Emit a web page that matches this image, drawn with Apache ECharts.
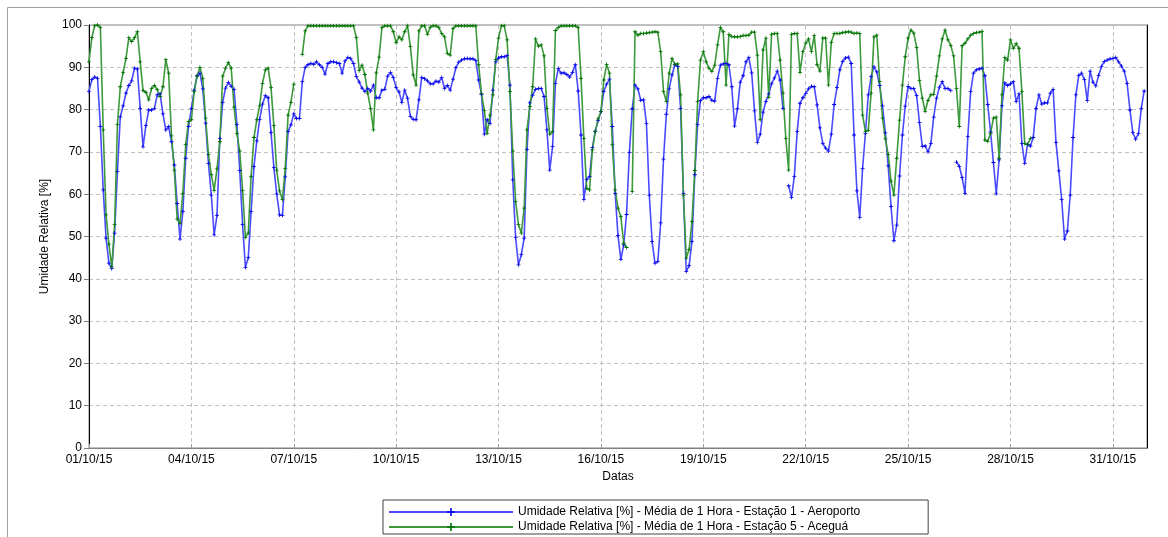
<!DOCTYPE html>
<html>
<head>
<meta charset="utf-8">
<script src="https://cdn.jsdelivr.net/npm/echarts@6/dist/echarts.min.js"></script>
<style>
  html, body { margin: 0; padding: 0; background: #fff; }
  #chart { width: 1168px; height: 537px; }
</style>
</head>
<body>
<div id="chart"></div>
<script>
// leituras a cada 2 horas, a partir de 01/10/15 00:00
var dayLabels = ['01/10/15', '04/10/15', '07/10/15', '10/10/15', '13/10/15', '16/10/15',
                 '19/10/15', '22/10/15', '25/10/15', '28/10/15', '31/10/15'];

// Estação 1 - Aeroporto
var estacao1 = [
  84.3, 87.1, 87.7, 87.4, 76.0, 61.0, 49.6, 43.7, 42.4, 50.8, 65.4, 78.3,
  80.9, 83.9, 85.7, 86.8, 89.8, 89.6, 80.3, 71.2, 76.2, 79.9, 79.9, 80.3,
  83.5, 83.7, 79.0, 75.2, 76.0, 72.4, 66.9, 57.8, 49.4, 55.9, 68.5, 76.0,
  80.3, 84.6, 88.0, 88.6, 84.9, 76.8, 67.3, 59.8, 50.4, 55.0, 73.2, 81.7,
  85.1, 86.4, 85.5, 84.8, 76.5, 65.6, 52.8, 42.7, 45.0, 55.9, 66.5, 72.6,
  77.7, 81.3, 83.3, 82.8, 74.6, 66.3, 60.1, 55.1, 55.0, 64.1, 74.8, 76.4,
  79.0, 77.9, 77.9, 86.6, 90.0, 90.6, 90.9, 90.7, 91.3, 90.6, 90.0, 88.4,
  90.9, 91.3, 91.3, 91.1, 90.9, 88.6, 91.5, 92.3, 92.1, 90.9, 87.8, 86.5,
  85.1, 84.3, 85.0, 84.4, 85.8, 82.8, 82.8, 84.6, 84.8, 87.9, 88.8, 87.6,
  85.2, 84.2, 81.7, 84.6, 82.7, 78.4, 77.7, 77.6, 82.3, 87.6, 87.3, 86.8,
  86.1, 86.1, 86.7, 86.5, 87.6, 85.0, 85.7, 84.6, 87.2, 89.9, 91.2, 91.7,
  92.0, 92.1, 92.0, 92.0, 91.6, 87.0, 83.6, 74.2, 77.6, 76.7, 84.6, 91.3,
  92.2, 92.5, 92.5, 92.8, 85.8, 63.4, 49.8, 43.3, 45.7, 49.6, 70.6, 81.6,
  83.4, 84.8, 85.0, 85.0, 83.1, 75.2, 65.7, 71.3, 86.2, 89.7, 88.6, 88.7,
  88.3, 87.7, 88.8, 90.6, 84.4, 74.0, 58.7, 63.5, 64.2, 71.0, 74.9, 77.4,
  79.5, 84.3, 86.0, 87.2, 76.0, 60.2, 50.2, 44.6, 48.0, 55.2, 69.9, 80.2,
  85.8, 84.9, 82.2, 82.3, 76.7, 59.8, 48.8, 43.7, 44.1, 53.2, 68.3, 78.9,
  84.9, 88.2, 90.6, 90.2, 80.3, 60.2, 41.7, 43.1, 48.8, 64.6, 76.5, 82.1,
  82.8, 82.8, 83.1, 82.2, 82.0, 87.4, 90.5, 90.8, 90.9, 90.6, 85.4, 76.1,
  80.2, 86.5, 88.0, 91.3, 92.3, 88.7, 79.7, 72.2, 74.2, 79.4, 81.9, 83.7,
  86.1, 87.5, 89.1, 87.0, 80.3, null, 62.0, 59.2, 64.2, 74.8, 81.5, 82.8,
  83.8, 84.9, 85.5, 85.4, 81.1, 75.7, 72.0, 70.9, 70.2, 74.2, 81.2, 85.2,
  89.4, 91.4, 92.2, 92.4, 90.9, 74.0, 60.8, 54.5, 66.1, 74.4, 83.5, 87.8,
  90.1, 88.9, 85.7, 80.9, 74.5, 66.7, 57.1, 49.0, 52.7, 64.3, 74.0, 80.8,
  85.5, 85.0, 85.0, 83.3, 76.9, 71.3, 71.4, 70.0, 72.0, 78.2, 82.7, 85.3,
  86.6, 85.0, 85.0, 84.5, null, 67.6, 66.6, 63.9, 60.2, 73.6, 84.3, 88.6,
  89.4, 89.6, 89.8, 88.0, 81.2, 74.7, 67.5, 60.1, 68.1, 80.9, 86.3, 85.7,
  86.1, 86.6, 81.9, 83.7, 72.0, 67.3, 71.8, 71.4, 73.4, 80.3, 83.5, 81.3,
  81.6, 81.6, 83.9, 84.8, 72.2, 65.5, 58.7, 49.4, 51.3, 59.8, 73.4, 83.5,
  88.1, 88.6, 87.1, 82.1, 89.1, 86.5, 85.6, 88.1, 90.2, 91.4, 91.7, 92.0,
  92.1, 92.3, 91.3, 90.3, 89.1, 86.2, 79.9, 74.6, 73.0, 74.3, 80.3, 84.4
];

// Estação 5 - Aceguá
var estacao5 = [
  91.3, 97.0, 99.8, 100, 99.4, 75.2, 55.1, 48.2, 42.8, 52.8, 76.5, 85.4,
  88.8, 92.1, 97.0, 96.1, 97.0, 98.4, 91.3, 84.5, 84.1, 82.3, 85.0, 85.7,
  84.7, 83.1, 85.4, 91.8, 88.6, 73.8, 65.7, 54.1, 53.1, 60.2, 71.7, 77.2,
  77.6, 84.3, 87.9, 90.0, 87.4, 78.0, 69.4, 64.6, 60.9, 66.0, 72.4, 87.9,
  89.8, 91.1, 89.8, 80.6, 74.4, 70.2, 60.9, 49.8, 50.8, 64.2, 73.4, 77.6,
  80.9, 86.2, 89.4, 89.8, 85.2, 76.2, 65.7, 60.8, 58.7, 66.1, 78.7, 81.7,
  86.0, null, null, 93.0, 98.6, 99.8, 99.8, 99.8, 99.8, 99.8, 99.8, 99.8,
  99.8, 99.8, 99.8, 99.8, 99.8, 99.8, 99.8, 99.8, 99.8, 99.8, 97.0, 89.2,
  90.5, 88.3, 83.9, 80.3, 75.2, 88.7, 92.4, 99.4, 99.8, 99.8, 99.8, 98.4,
  95.8, 97.2, 96.5, 98.4, 99.8, 94.9, 88.2, 85.8, 98.6, 99.8, 99.8, 97.8,
  99.5, 99.8, 99.8, 99.4, 98.0, 97.2, 93.3, 92.9, 99.2, 99.8, 99.8, 99.8,
  99.8, 99.8, 99.8, 99.8, 99.8, 90.6, 83.8, 79.8, 74.4, 78.7, 83.5, 91.8,
  96.9, 99.8, 99.8, 96.5, 84.3, 70.2, 58.3, 52.8, 50.8, 56.7, 75.2, 80.7,
  85.4, 96.7, 95.0, 95.3, 92.7, 80.3, 74.2, 74.8, 98.7, 99.4, 99.8, 99.8,
  99.8, 99.8, 99.8, 99.8, 99.4, 87.4, 73.2, 61.4, 61.0, 70.5, 74.8, 77.8,
  79.5, 87.0, 90.7, 88.6, 71.7, 61.0, 56.7, 54.7, 48.4, 47.4, null, 60.6,
  98.4, 97.6, 98.0, 98.0, 98.1, 98.2, 98.3, 98.4, 98.3, 93.7, 84.3, 81.9,
  88.6, 92.1, 90.7, 90.8, 83.5, 59.8, 44.9, 46.9, 53.5, 65.6, 81.9, 91.7,
  93.7, 91.3, 89.8, 89.0, 90.5, 95.3, 99.4, 98.4, 85.8, 97.8, 97.3, 97.2,
  97.2, 97.3, 97.5, 97.5, 97.6, 98.3, 98.3, 92.9, 77.6, 94.1, 96.9, 82.9,
  97.8, 98.0, 98.0, 91.7, 83.9, 73.2, 65.7, 97.8, 98.0, 98.0, 88.8, 93.7,
  95.7, 96.7, 93.7, 97.5, 90.6, 89.1, 96.9, 96.9, 85.8, 95.9, 98.0, 98.0,
  98.0, 98.2, 98.3, 98.4, 98.3, 98.0, 98.1, 98.0, 78.7, 74.8, 75.1, 83.9,
  97.2, 97.6, 86.6, 78.0, 73.1, 69.4, 63.1, 59.8, 68.5, 77.5, 85.8, 92.5,
  96.9, 98.8, 98.1, 94.7, 86.9, 82.7, 79.6, 82.2, 83.5, 83.6, 87.9, 92.7,
  96.7, 98.8, 96.5, 95.2, 92.7, 85.0, 76.0, 95.1, 95.7, 96.7, 97.6, 98.0,
  98.2, 98.3, 98.5, 72.8, 72.5, 74.4, 78.0, 78.2, 68.5, 83.5, 92.3, 91.7,
  96.5, 94.5, 95.6, 94.5, 84.3, 72.0, 71.7, 73.2, null, null, null, null,
  null, null, null, null, null, null, null, null, null, null, null, null,
  null, null, null, null, null, null, null, null, null, null, null, null,
  null, null, null, null, null, null, null, null, null, null, null, null
];

var nomes = [
  'Umidade Relativa [%] - Média de 1 Hora - Estação 1 - Aeroporto',
  'Umidade Relativa [%] - Média de 1 Hora - Estação 5 - Aceguá'
];

function pares(vals) {
  return vals.map(function (v, i) { return [i * 2, v == null ? '-' : v]; });
}

var plus = 'path://M4,0H6V4H10V6H6V10H4V6H0V4H4Z';
var fonte = '"Liberation Sans", Arial, sans-serif';

var myChart = echarts.init(document.getElementById('chart'));
var option = {
  animation: false,
  backgroundColor: '#fff',
  textStyle: { fontFamily: fonte },
  graphic: [{
    type: 'rect',
    shape: { x: 7.5, y: 7.5, width: 1200, height: 600 },
    style: { fill: 'none', stroke: '#a0a0a0', lineWidth: 1 },
    silent: true
  }],
  grid: {
    left: 89, top: 25, width: 1058, height: 423,
    show: true, borderColor: '#808080', borderWidth: 1
  },
  legend: {
    orient: 'vertical',
    left: 383, top: 500,
    itemWidth: 124, itemHeight: 10, itemGap: 1,
    padding: [5, 68, 0, 5],
    backgroundColor: '#fff',
    borderColor: '#404040', borderWidth: 1,
    textStyle: { fontSize: 12, color: '#000', fontFamily: fonte, lineHeight: 14 },
    data: nomes
  },
  xAxis: {
    type: 'value',
    min: 0, max: 744, interval: 72,
    name: 'Datas', nameLocation: 'middle', nameGap: 21,
    nameTextStyle: { fontSize: 12, color: '#000' },
    axisLine: { show: true, lineStyle: { color: '#808080' } },
    axisTick: { show: true, inside: true, length: 4, lineStyle: { color: '#a0a0a0' } },
    axisLabel: {
      fontSize: 12, color: '#000', margin: 6, showMaxLabel: false,
      formatter: function (v) { return dayLabels[v / 72] || ''; }
    },
    splitLine: { show: true, lineStyle: { color: '#c0c0c0', type: [4, 3] } }
  },
  yAxis: [{
    type: 'value',
    min: 0, max: 100, interval: 10,
    name: 'Umidade Relativa [%]', nameLocation: 'middle', nameGap: 38,
    nameTextStyle: { fontSize: 12, color: '#000' },
    axisLine: { show: true, lineStyle: { color: '#000' } },
    axisTick: { show: true, length: 5, lineStyle: { color: '#808080' } },
    axisLabel: { fontSize: 12, color: '#000', margin: 7 },
    splitLine: { show: true, lineStyle: { color: '#c0c0c0', type: [4, 3] } }
  }, {
    type: 'value',
    position: 'right',
    min: 0, max: 100, interval: 10,
    axisLine: { show: true, lineStyle: { color: '#000' } },
    axisTick: { show: false },
    axisLabel: { show: false },
    splitLine: { show: false }
  }],
  series: [{
    name: nomes[0],
    type: 'line',
    data: pares(estacao1),
    symbol: plus, symbolSize: 4,
    showSymbol: true, showAllSymbol: true,
    itemStyle: { color: '#0000e6' },
    lineStyle: { color: '#4a4aff', width: 1.6 }
  }, {
    name: nomes[1],
    type: 'line',
    data: pares(estacao5),
    symbol: plus, symbolSize: 4,
    showSymbol: true, showAllSymbol: true,
    itemStyle: { color: '#007000' },
    lineStyle: { color: '#3c9a3c', width: 1.6 }
  }]
};
myChart.setOption(option);
window.onresize = myChart.resize;
</script>
</body>
</html>
